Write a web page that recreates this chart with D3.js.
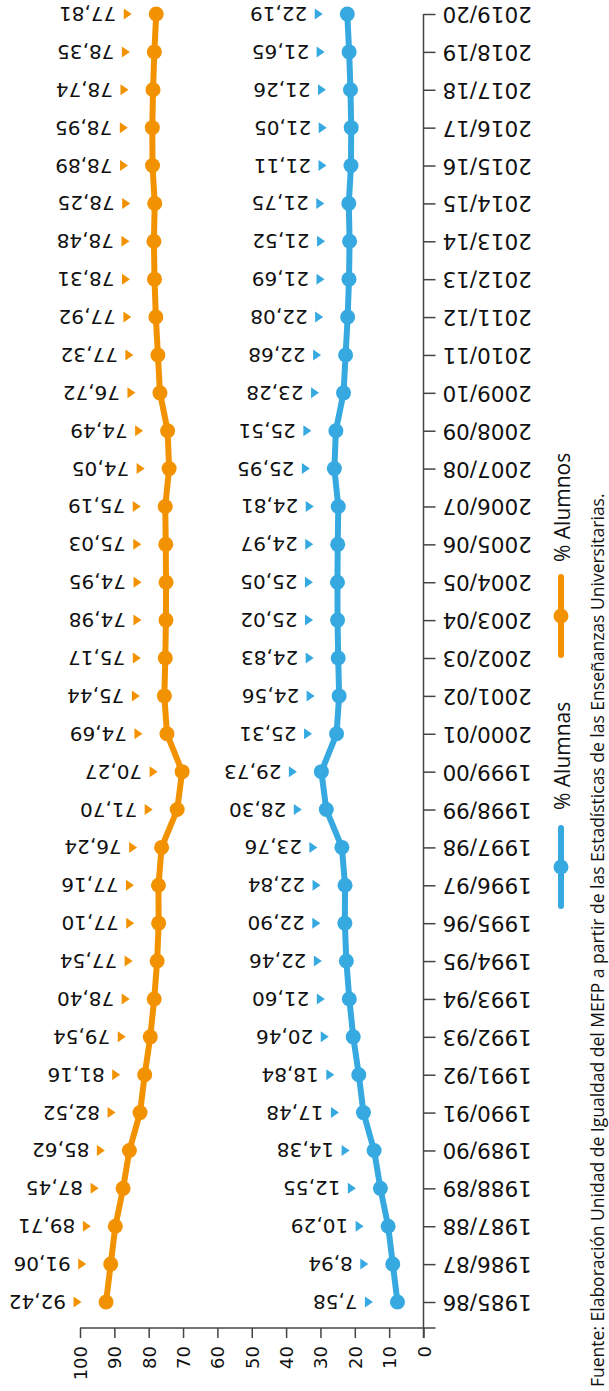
<!DOCTYPE html>
<html>
<head>
<meta charset="utf-8">
<script src="https://cdn.jsdelivr.net/npm/d3@7"></script>
<style>
  html, body { margin: 0; padding: 0; background: #fff; }
  svg { display: block; }
</style>
</head>
<body>
<svg id="chart" width="609" height="1391"></svg>
<script>
const categories = ["1985/86","1986/87","1987/88","1988/89","1989/90","1990/91","1991/92","1992/93","1993/94","1994/95","1995/96","1996/97","1997/98","1998/99","1999/00","2000/01","2001/02","2002/03","2003/04","2004/05","2005/06","2006/07","2007/08","2008/09","2009/10","2010/11","2011/12","2012/13","2013/14","2014/15","2015/16","2016/17","2017/18","2018/19","2019/20"];
const alumnas = [7.58,8.94,10.29,12.55,14.38,17.48,18.84,20.46,21.60,22.46,22.90,22.84,23.76,28.30,29.73,25.31,24.56,24.83,25.02,25.05,24.97,24.81,25.95,25.51,23.28,22.68,22.08,21.69,21.52,21.75,21.11,21.05,21.26,21.65,22.19];
const alumnos = [92.42,91.06,89.71,87.45,85.62,82.52,81.16,79.54,78.40,77.54,77.10,77.16,76.24,71.70,70.27,74.69,75.44,75.17,74.98,74.95,75.03,75.19,74.05,74.49,76.72,77.32,77.92,78.31,78.48,78.25,78.89,78.95,78.74,78.35,77.81];
const valueTicks = [0,10,20,30,40,50,60,70,80,90,100];
const seriesNames = ["% Alumnas","% Alumnos"];
const sourceText = "Fuente: Elaboración Unidad de Igualdad del MEFP a partir de las Estadísticas de las Enseñanzas Universitarias.";

const BLUE = "#36A9E1", ORANGE = "#F39200", AXIS = "#444";
const numFont = "'DejaVu Sans', sans-serif";
const txtFont = "'Open Sans', sans-serif";

const svg = d3.select("#chart");
const x = d3.scaleLinear().domain([0, 100]).range([423.5, 80]);
const y = d3.scalePoint().domain(categories).range([1302, 14]);
const fmt = v => d3.format(".2f")(v).replace(".", ",");

const axisY = 1328;

// value axis (bottom)
const gx = svg.append("g").attr("transform", `translate(0,${axisY})`)
  .call(d3.axisBottom(x).tickValues(valueTicks).tickSize(10).tickSizeOuter(0));
gx.select(".domain").remove();
gx.selectAll(".tick line").attr("stroke", AXIS).attr("stroke-width", 1.5);
gx.selectAll(".tick text")
  .attr("x", null).attr("y", null).attr("dy", null)
  .attr("transform", "translate(0,18) rotate(-90)")
  .attr("text-anchor", "end")
  .attr("dominant-baseline", "central")
  .style("font-family", numFont).style("font-size", "18px").attr("fill", "#111");
svg.append("line")
  .attr("x1", x(100)).attr("x2", x(0) + 12)
  .attr("y1", axisY).attr("y2", axisY)
  .attr("stroke", AXIS).attr("stroke-width", 1.5);

// category axis (right side of plot)
const gy = svg.append("g").attr("transform", `translate(${x(0)},0)`)
  .call(d3.axisRight(y).tickSize(12).tickSizeOuter(0));
gy.select(".domain").remove();
gy.selectAll(".tick line").attr("stroke", AXIS).attr("stroke-width", 1.5);
gy.selectAll(".tick text")
  .attr("x", null).attr("y", null).attr("dy", null)
  .attr("transform", "translate(19,0) rotate(180)")
  .attr("text-anchor", "end")
  .attr("dominant-baseline", "central")
  .style("font-family", numFont).style("font-size", "21.5px").attr("fill", "#111");
svg.append("line")
  .attr("x1", x(0)).attr("x2", x(0))
  .attr("y1", y(categories[categories.length - 1])).attr("y2", axisY + 10)
  .attr("stroke", AXIS).attr("stroke-width", 1.5);

// series
function drawSeries(values, color) {
  const data = categories.map((c, i) => ({c, v: values[i]}));
  const g = svg.append("g");
  g.append("path").datum(data)
    .attr("fill", "none").attr("stroke", color).attr("stroke-width", 6)
    .attr("stroke-linejoin", "round").attr("stroke-linecap", "round")
    .attr("d", d3.line().x(d => x(d.v)).y(d => y(d.c)));
  g.selectAll("circle").data(data).join("circle")
    .attr("cx", d => x(d.v)).attr("cy", d => y(d.c)).attr("r", 7.5).attr("fill", color);
  g.selectAll("path.tri").data(data).join("path").attr("class", "tri")
    .attr("d", "M-4,-5.5L4,0L-4,5.5Z")
    .attr("transform", d => `translate(${x(d.v) - 28.5},${y(d.c)})`)
    .attr("fill", color);
  g.selectAll("text").data(data).join("text")
    .attr("transform", d => `translate(${x(d.v) - 40},${y(d.c)}) rotate(180)`)
    .attr("text-anchor", "start").attr("dominant-baseline", "central")
    .style("font-family", numFont).style("font-size", "20px").attr("fill", "#111")
    .text(d => fmt(d.v));
}
drawSeries(alumnas, BLUE);
drawSeries(alumnos, ORANGE);

// legend
const legend = [
  {name: seriesNames[0], color: BLUE, y0: 906, textY: 810},
  {name: seriesNames[1], color: ORANGE, y0: 655, textY: 562}
];
legend.forEach(l => {
  const g = svg.append("g");
  g.append("line").attr("x1", 561).attr("x2", 561).attr("y1", l.y0).attr("y2", l.y0 - 78)
    .attr("stroke", l.color).attr("stroke-width", 6).attr("stroke-linecap", "round");
  g.append("circle").attr("cx", 561).attr("cy", l.y0 - 39).attr("r", 7.5).attr("fill", l.color);
  g.append("text").attr("transform", `translate(570,${l.textY}) rotate(-90)`)
    .attr("text-anchor", "start")
    .style("font-family", txtFont).style("font-size", "21px").attr("fill", "#111")
    .text(l.name);
});

// source
svg.append("text").attr("transform", "translate(604,1387) rotate(-90)")
  .attr("text-anchor", "start")
  .style("font-family", txtFont).style("font-size", "17.5px").attr("fill", "#111")
  .text(sourceText);
</script>
</body>
</html>
